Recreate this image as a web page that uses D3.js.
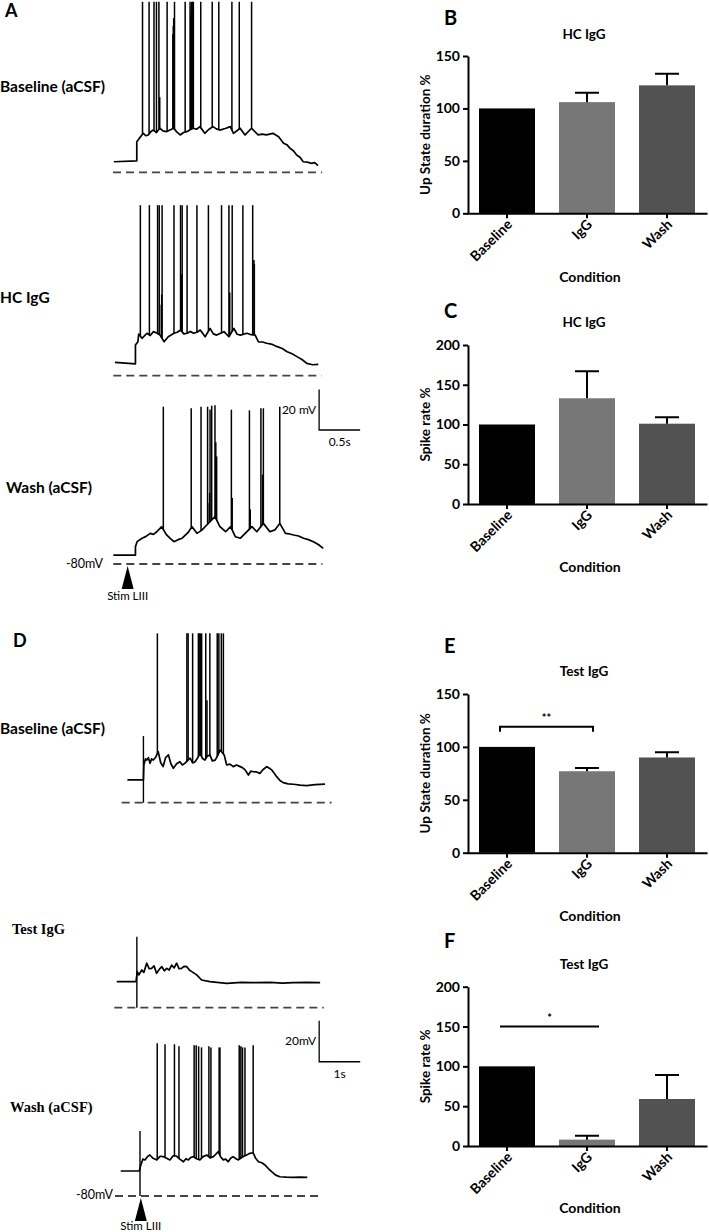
<!DOCTYPE html>
<html>
<head>
<meta charset="utf-8">
<script src="https://cdn.jsdelivr.net/npm/d3@7"></script>
<style>
  body { margin: 0; background: #fff; }
  svg { display: block; }
</style>
</head>
<body>
<svg id="fig" width="709" height="1232"></svg>
<script>
// ---------- bar chart data ----------
const conditions = ["Baseline", "IgG", "Wash"];
const barColors = ["#000000", "#777777", "#525252"];

const hcUpState = [100, 106, 122];
const hcUpStateErr = [0, 9, 11];
const hcSpikeRate = [100, 133, 101];
const hcSpikeRateErr = [0, 34, 8];
const testUpState = [100, 77, 90];
const testUpStateErr = [0, 3, 5];
const testSpikeRate = [100, 8, 59];
const testSpikeRateErr = [0, 5, 30];

const upStateTicks = [0, 50, 100, 150];
const spikeRateTicks = [0, 50, 100, 150, 200];

// ---------- membrane potential traces (time s, mV) ----------
// panel A, baseline
const a1Trace = [[0.01,-74.8],[0.29,-74.4],[0.29,-64.9],[0.32,-63.3],[0.37,-60.8],[0.40,-62.0],[0.43,-61.6],
  [0.46,-60.0],[0.49,-59.2],[0.53,-60.4],[0.57,-58.3],[0.61,-59.6],[0.65,-60.0],[0.70,-59.0],[0.74,-58.3],
  [0.78,-60.2],[0.82,-61.6],[0.86,-60.4],[0.90,-60.0],[0.94,-59.0],[0.98,-58.3],[1.02,-58.8],[1.06,-57.5],
  [1.12,-60.8],[1.17,-58.8],[1.22,-57.5],[1.26,-58.6],[1.30,-59.2],[1.37,-58.4],[1.43,-57.5],[1.47,-60.8],
  [1.55,-58.3],[1.61,-61.6],[1.69,-58.3],[1.73,-60.0],[1.77,-61.6],[1.82,-61.2],[1.87,-61.6],[1.95,-60.8],
  [2.02,-62.5],[2.08,-65.7],[2.12,-66.4],[2.16,-68.2],[2.20,-69.4],[2.24,-71.5],[2.28,-72.6],[2.32,-74.8],
  [2.37,-75.0],[2.42,-75.6],[2.46,-75.2],[2.50,-76.7]];
const a1Spikes = [[0.36,4],[0.44,4],[0.50,4],[0.53,4],[0.56,4],[0.57,-43],[0.66,4],[0.73,-12],[0.735,-8],
  [0.74,-4],[0.75,4],[0.88,4],[0.94,4],[0.95,-2],[0.955,2],[0.96,4],[0.97,4],[0.98,4],[1.07,4],[1.21,4],
  [1.29,4],[1.45,4],[1.54,4],[1.69,4]];

// panel A, HC IgG
const a2Trace = [[0.02,-73.4],[0.27,-74.2],[0.27,-64.9],[0.30,-63.3],[0.31,-59.5],[0.35,-61.6],[0.41,-59.1],
  [0.45,-60.2],[0.49,-58.3],[0.53,-59.0],[0.57,-60.0],[0.62,-63.3],[0.67,-60.8],[0.74,-59.1],[0.78,-58.6],
  [0.82,-57.5],[0.86,-59.4],[0.90,-59.1],[0.94,-58.2],[0.98,-59.1],[1.02,-58.6],[1.06,-57.5],[1.12,-60.8],
  [1.18,-56.7],[1.22,-59.4],[1.26,-60.0],[1.35,-58.3],[1.41,-60.8],[1.47,-56.7],[1.51,-59.6],[1.55,-60.0],
  [1.63,-59.1],[1.68,-59.8],[1.73,-60.0],[1.77,-63.3],[1.82,-63.4],[1.87,-64.0],[1.94,-64.6],[2.00,-65.7],
  [2.06,-66.6],[2.12,-68.2],[2.18,-69.2],[2.24,-70.6],[2.30,-72.0],[2.36,-73.9],[2.43,-74.6],[2.50,-74.4]];
const a2Spikes = [[0.33,4],[0.44,4],[0.54,4],[0.56,4],[0.585,-45],[0.59,-40],[0.595,4],[0.74,4],[0.82,4],
  [0.835,-30],[0.84,4],[0.90,4],[1.02,4],[1.16,4],[1.32,4],[1.41,4],[1.42,-39],[1.45,4],[1.58,4],
  [1.70,4],[1.715,-23],[1.72,-25]];

// panel A, wash
const a3Trace = [[0.0,-75.6],[0.27,-75.6],[0.27,-71.5],[0.29,-69.0],[0.35,-67.3],[0.40,-66.4],[0.45,-64.9],
  [0.49,-65.4],[0.53,-64.1],[0.59,-61.6],[0.65,-65.7],[0.70,-67.6],[0.74,-69.0],[0.79,-68.0],[0.84,-67.3],
  [0.91,-64.6],[0.96,-61.6],[1.02,-64.9],[1.08,-63.3],[1.14,-60.8],[1.24,-56.7],[1.30,-61.6],[1.37,-64.1],
  [1.43,-61.6],[1.49,-66.6],[1.55,-67.3],[1.63,-64.1],[1.69,-61.6],[1.75,-64.1],[1.83,-60.0],[1.91,-64.1],
  [1.97,-63.2],[2.03,-60.0],[2.10,-64.9],[2.15,-65.2],[2.20,-65.7],[2.26,-66.2],[2.32,-67.3],[2.38,-68.0],
  [2.44,-69.0],[2.50,-70.4],[2.56,-72.3]];
const a3Spikes = [[0.61,-2.5],[0.95,-3.3],[1.07,-2.5],[1.15,-2.5],[1.17,-50],[1.175,-45],[1.18,-3.9],
  [1.20,-2],[1.24,-1.8],[1.25,-20],[1.26,-27],[1.44,-4],[1.45,-47.5],[1.66,-4.3],[1.67,-53],[1.80,-3.3],
  [1.82,-36],[1.83,-3.3],[2.03,-2.5]];

// panel D, baseline
const d1Trace = [[0.14,-68.9],[0.53,-68.9],[0.54,-61.6],[0.58,-58.6],[0.61,-59.2],[0.65,-58.0],[0.69,-60.8],
  [0.73,-58.6],[0.77,-59.2],[0.83,-57.8],[0.89,-55.1],[0.95,-60.4],[1.01,-62.4],[1.07,-58.0],[1.14,-56.7],
  [1.20,-61.0],[1.26,-63.2],[1.34,-61.0],[1.42,-60.0],[1.48,-61.6],[1.54,-60.8],[1.60,-59.6],[1.67,-58.3],
  [1.73,-60.6],[1.79,-60.0],[1.85,-58.2],[1.91,-55.9],[1.97,-58.4],[2.03,-59.2],[2.09,-57.2],[2.15,-56.7],
  [2.21,-59.6],[2.28,-59.2],[2.34,-57.0],[2.40,-54.3],[2.50,-56.7],[2.56,-61.6],[2.64,-61.2],[2.72,-62.4],
  [2.80,-61.6],[2.89,-62.4],[2.95,-63.0],[3.01,-64.0],[3.09,-66.5],[3.15,-64.6],[3.21,-64.9],[3.29,-65.0],
  [3.37,-65.7],[3.45,-63.8],[3.54,-62.4],[3.60,-63.2],[3.66,-64.0],[3.72,-65.6],[3.78,-67.3],[3.86,-69.2],
  [3.94,-70.2],[4.06,-70.8],[4.19,-71.0],[4.35,-71.4],[4.51,-71.7],[4.72,-71.2],[4.96,-70.9]];
const d1Spikes = [[0.87,2.6],[1.59,2.6],[1.62,2.6],[1.73,2.6],[1.87,2.6],[1.89,2.6],[1.92,2.6],[1.95,2.6],
  [2.05,2.6],[2.08,-30],[2.15,2.6],[2.33,2.6],[2.37,2.6],[2.43,2.6],[2.48,2.6]];
const d1Artifact = [0.53, -47.5];

// panel D, test IgG
const d2Trace = [[0.06,-67.3],[0.53,-67.3],[0.56,-62.4],[0.60,-64.0],[0.67,-61.6],[0.72,-62.8],[0.79,-58.3],
  [0.85,-61.0],[0.91,-60.8],[0.97,-59.6],[1.03,-63.2],[1.10,-61.2],[1.16,-60.0],[1.22,-62.0],[1.28,-60.8],
  [1.34,-61.6],[1.40,-59.2],[1.46,-60.6],[1.52,-58.3],[1.58,-61.0],[1.64,-60.8],[1.70,-59.8],[1.77,-60.0],
  [1.83,-61.6],[1.89,-62.4],[2.01,-64.0],[2.13,-66.5],[2.33,-67.3],[2.74,-68.1],[3.10,-67.6],[3.39,-67.8],
  [3.80,-67.6],[4.10,-68.0],[4.37,-67.8],[4.70,-67.6],[5.02,-67.8]];
const d2Spikes = [];
const d2Artifact = [0.55, -45.4];

// panel D, wash
const d3Trace = [[0.14,-67.8],[0.59,-67.8],[0.63,-64.9],[0.68,-62.0],[0.73,-62.4],[0.79,-60.8],[0.85,-60.0],
  [0.93,-61.6],[1.02,-62.4],[1.10,-60.6],[1.18,-60.8],[1.26,-61.6],[1.34,-62.4],[1.42,-60.4],[1.50,-60.5],
  [1.58,-62.0],[1.67,-63.3],[1.73,-61.8],[1.79,-62.4],[1.85,-61.2],[1.91,-60.8],[1.99,-61.8],[2.07,-62.4],
  [2.15,-60.8],[2.24,-60.0],[2.32,-61.4],[2.40,-60.8],[2.46,-59.6],[2.52,-58.4],[2.58,-61.0],[2.64,-62.4],
  [2.70,-62.0],[2.76,-63.3],[2.82,-61.6],[2.88,-60.8],[2.95,-61.8],[3.01,-62.4],[3.11,-61.0],[3.21,-60.0],
  [3.29,-59.2],[3.37,-58.9],[3.43,-61.6],[3.50,-63.3],[3.58,-63.8],[3.66,-64.9],[3.74,-66.6],[3.82,-68.1],
  [3.92,-69.8],[4.02,-70.6],[4.18,-70.8],[4.35,-70.9],[4.52,-70.8],[4.69,-70.9]];
const d3Spikes = [[1.03,-5.5],[1.22,-6],[1.45,-6],[1.56,-7],[1.93,-6.5],[1.98,-6.5],[2.04,-7],[2.11,-7.5],
  [2.29,-7],[2.34,-7.5],[2.54,-7.5],[2.56,-7.5],[3.03,-6.5],[3.07,-7],[3.11,-7.5],[3.17,-7.5],[3.37,-6.5]];
const d3Artifact = [0.61, -48.3];

const svg = d3.select("#fig");
const labelFont = "Lato, 'Open Sans', sans-serif";
const serifFont = "'Liberation Serif', 'DejaVu Serif', serif";

function envelopeAt(trace, t) {
  const i = d3.bisector(d => d[0]).left(trace, t);
  if (i <= 0) return trace[0][1];
  if (i >= trace.length) return trace[trace.length - 1][1];
  const a = trace[i - 1], b = trace[i];
  if (b[0] === a[0]) return b[1];
  return a[1] + (b[1] - a[1]) * (t - a[0]) / (b[0] - a[0]);
}

function drawTrace(cfg) {
  const x = d3.scaleLinear().domain([0, cfg.dur]).range([cfg.x0, cfg.x0 + cfg.dur * cfg.pxPerSec]);
  const y = d3.scaleLinear().domain([-80, 0]).range([cfg.dash, cfg.dash - 80 * cfg.pxPerMv]);
  const g = svg.append("g");

  // -80 mV reference line
  g.append("line")
    .attr("x1", x(0)).attr("x2", x(cfg.dur))
    .attr("y1", y(-80)).attr("y2", y(-80))
    .attr("stroke", "#444").attr("stroke-width", 1.8)
    .attr("stroke-dasharray", "8,5");

  const line = d3.line().x(d => x(d[0])).y(d => y(d[1]));
  g.append("path")
    .datum(cfg.trace)
    .attr("fill", "none")
    .attr("stroke", "#000")
    .attr("stroke-width", 1.7)
    .attr("stroke-linejoin", "round")
    .attr("d", line);

  // spikes, drawn from the envelope up to their peak
  g.selectAll(".spike")
    .data(cfg.spikes)
    .join("line")
    .attr("class", "spike")
    .attr("x1", d => x(d[0])).attr("x2", d => x(d[0]))
    .attr("y1", d => y(envelopeAt(cfg.trace, d[0])))
    .attr("y2", d => y(d[1]))
    .attr("stroke", "#000")
    .attr("stroke-width", 1.5);

  // stimulus artifact
  if (cfg.artifact) {
    g.append("line")
      .attr("x1", x(cfg.artifact[0])).attr("x2", x(cfg.artifact[0]))
      .attr("y1", y(cfg.artifact[1])).attr("y2", y(-80))
      .attr("stroke", "#000").attr("stroke-width", 1.4);
  }
  return { x, y };
}

function scaleBar(sc, t, v, mv, sec, mvLabel, secLabel) {
  const g = svg.append("g");
  g.append("path")
    .attr("d", `M${sc.x(t)},${sc.y(v + mv)}V${sc.y(v)}H${sc.x(t + sec)}`)
    .attr("fill", "none").attr("stroke", "#000").attr("stroke-width", 1.3);
  g.append("text")
    .attr("x", sc.x(t) - 3).attr("y", sc.y(v + mv / 2) + 4)
    .attr("text-anchor", "end")
    .attr("font-family", labelFont).attr("font-size", 12)
    .text(mvLabel);
  g.append("text")
    .attr("x", sc.x(t + sec / 2)).attr("y", sc.y(v) + 16)
    .attr("text-anchor", "middle")
    .attr("font-family", labelFont).attr("font-size", 12)
    .text(secLabel);
}

function stimMarker(sc, t, labelY) {
  const cx = sc.x(t), top = sc.y(-80) + 2;
  svg.append("path")
    .attr("d", `M${cx},${top}L${cx + 6},${top + 23}L${cx - 6},${top + 23}Z`)
    .attr("fill", "#000");
  svg.append("text")
    .attr("x", cx).attr("y", labelY)
    .attr("text-anchor", "middle")
    .attr("font-family", labelFont).attr("font-size", 11.5)
    .text("Stim LIII");
}

function addText(txt, x, y, size, opts = {}) {
  svg.append("text")
    .attr("x", x).attr("y", y)
    .attr("font-family", opts.family || labelFont)
    .attr("font-size", size)
    .attr("font-weight", opts.weight || "bold")
    .attr("text-anchor", opts.anchor || "start")
    .text(txt);
}

// ---------- panel A ----------
addText("A", 5, 17, 18);
addText("Baseline (aCSF)", 0, 92, 15.5);
addText("HC IgG", 0, 303, 15.5);
addText("Wash (aCSF)", 6, 493, 15.5);

drawTrace({ trace: a1Trace, spikes: a1Spikes, x0: 113, dash: 172.3, pxPerSec: 82, pxPerMv: 2.03, dur: 2.55 });
drawTrace({ trace: a2Trace, spikes: a2Spikes, x0: 113.3, dash: 375.7, pxPerSec: 82, pxPerMv: 2.03, dur: 2.54 });
const scA = drawTrace({ trace: a3Trace, spikes: a3Spikes, x0: 113.3, dash: 564, pxPerSec: 82, pxPerMv: 2.03, dur: 2.55 });
scaleBar(scA, 2.51, -14, 20, 0.5, "20 mV", "0.5s");
stimMarker(scA, 0.175, 600);
addText("-80mV", 103, 568, 12.5, { anchor: "end", weight: "normal" });

// ---------- panel D ----------
addText("D", 13, 647, 18);
addText("Baseline (aCSF)", 0, 734, 15.5);
addText("Test IgG", 12, 934, 14.5, { family: serifFont });
addText("Wash (aCSF)", 10, 1112, 14.5, { family: serifFont });

drawTrace({ trace: d1Trace, spikes: d1Spikes, artifact: d1Artifact, x0: 121.7, dash: 802.7, pxPerSec: 41, pxPerMv: 2.05, dur: 5.12 });
drawTrace({ trace: d2Trace, spikes: d2Spikes, artifact: d2Artifact, x0: 114.3, dash: 1007.7, pxPerSec: 41, pxPerMv: 2.05, dur: 5.11 });
const scD = drawTrace({ trace: d3Trace, spikes: d3Spikes, artifact: d3Artifact, x0: 115, dash: 1196, pxPerSec: 41, pxPerMv: 2.05, dur: 5.04 });
scaleBar(scD, 4.98, -14.5, 20, 1, "20mV", "1s");
stimMarker(scD, 0.63, 1230);
addText("-80mV", 113, 1199, 12.5, { anchor: "end", weight: "normal" });

// ---------- bar panels ----------
function drawBarPanel(p) {
  const g = svg.append("g");
  const x = d3.scaleBand().domain(conditions).range([467, 707]).paddingInner(0.3).paddingOuter(0.15);
  const y = d3.scaleLinear().domain([0, p.max]).range([p.y0, p.yTop]);

  g.append("text").attr("x", 444).attr("y", p.letterY)
    .attr("font-family", labelFont).attr("font-size", 20).attr("font-weight", "bold").text(p.letter);
  g.append("text").attr("x", 584).attr("y", p.titleY).attr("text-anchor", "middle")
    .attr("font-family", labelFont).attr("font-size", 13.5).attr("font-weight", "bold").text(p.title);

  g.selectAll(".bar")
    .data(p.values)
    .join("rect")
    .attr("class", "bar")
    .attr("x", (d, i) => x(conditions[i]))
    .attr("y", d => y(d))
    .attr("width", x.bandwidth())
    .attr("height", d => p.y0 - y(d))
    .attr("fill", (d, i) => barColors[i]);

  // error bars (upper)
  const err = p.values.map((v, i) => ({ v, e: p.errors[i], c: x(conditions[i]) + x.bandwidth() / 2 }))
    .filter(d => d.e > 0);
  g.selectAll(".err")
    .data(err)
    .join("path")
    .attr("class", "err")
    .attr("d", d => `M${d.c},${y(d.v)}V${y(d.v + d.e)}M${d.c - 12},${y(d.v + d.e)}H${d.c + 12}`)
    .attr("fill", "none").attr("stroke", "#000").attr("stroke-width", 2);

  const yAxis = g.append("g")
    .attr("transform", "translate(468,0)")
    .call(d3.axisLeft(y).tickValues(p.ticks).tickSize(5).tickSizeOuter(0).tickPadding(3));
  const xAxis = g.append("g")
    .attr("transform", `translate(0,${p.y0})`)
    .call(d3.axisBottom(x).tickSize(5).tickSizeOuter(0).tickFormat(""));
  [yAxis, xAxis].forEach(a => {
    a.select(".domain").attr("stroke", "#000").attr("stroke-width", 2);
    a.selectAll(".tick line").attr("stroke", "#000").attr("stroke-width", 2);
  });
  yAxis.selectAll("text")
    .attr("font-family", labelFont).attr("font-size", 14).attr("font-weight", "bold").attr("fill", "#000");

  g.selectAll(".xlab")
    .data(conditions)
    .join("text")
    .attr("class", "xlab")
    .attr("transform", d => `translate(${x(d) + x.bandwidth() / 2 + 6},${p.y0 + 12}) rotate(-45)`)
    .attr("text-anchor", "end")
    .attr("font-family", labelFont).attr("font-size", 14).attr("font-weight", "bold")
    .text(d => d);

  g.append("text")
    .attr("transform", `translate(430,${(p.y0 + p.yTop) / 2}) rotate(-90)`)
    .attr("text-anchor", "middle")
    .attr("font-family", labelFont).attr("font-size", 13.5).attr("font-weight", "bold")
    .text(p.yLabel);
  g.append("text").attr("x", 590).attr("y", p.condY).attr("text-anchor", "middle")
    .attr("font-family", labelFont).attr("font-size", 14).attr("font-weight", "bold").text("Condition");

  if (p.sig) {
    const x1 = x(conditions[0]) + x.bandwidth() / 2 - 7;
    const x2 = x(conditions[1]) + x.bandwidth() / 2 + (p.sig.ends ? 6 : 12);
    const sy = y(p.sig.value);
    const d = p.sig.ends ? `M${x1},${sy + 5}V${sy}H${x2}V${sy + 5}` : `M${x1},${sy}H${x2}`;
    g.append("path").attr("d", d).attr("fill", "none").attr("stroke", "#000").attr("stroke-width", 2);
    g.append("text").attr("x", (x1 + x2) / 2).attr("y", sy - 5).attr("text-anchor", "middle")
      .attr("font-family", labelFont).attr("font-size", 11).attr("font-weight", "bold").text(p.sig.label);
  }
}

drawBarPanel({ letter: "B", title: "HC IgG", values: hcUpState, errors: hcUpStateErr, ticks: upStateTicks,
  max: 150, y0: 213.3, yTop: 56, letterY: 25, titleY: 39, condY: 282, yLabel: "Up State duration %" });
drawBarPanel({ letter: "C", title: "HC IgG", values: hcSpikeRate, errors: hcSpikeRateErr, ticks: spikeRateTicks,
  max: 200, y0: 504, yTop: 345, letterY: 318, titleY: 327, condY: 572, yLabel: "Spike rate %" });
drawBarPanel({ letter: "E", title: "Test IgG", values: testUpState, errors: testUpStateErr, ticks: upStateTicks,
  max: 150, y0: 852.7, yTop: 694, letterY: 653, titleY: 676, condY: 921, yLabel: "Up State duration %",
  sig: { value: 119, label: "**", ends: true } });
drawBarPanel({ letter: "F", title: "Test IgG", values: testSpikeRate, errors: testSpikeRateErr, ticks: spikeRateTicks,
  max: 200, y0: 1146, yTop: 986.7, letterY: 948, titleY: 969, condY: 1213, yLabel: "Spike rate %",
  sig: { value: 150, label: "*", ends: false } });
</script>
</body>
</html>
